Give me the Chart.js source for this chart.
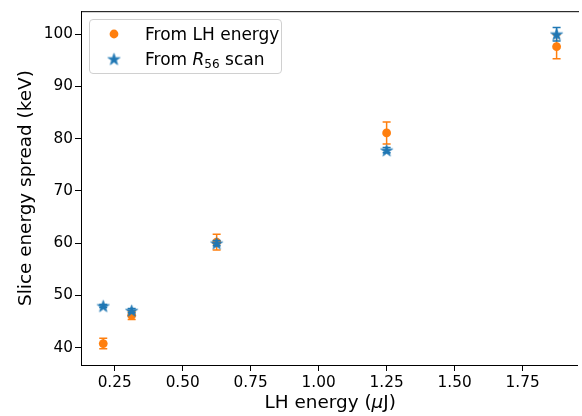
<!DOCTYPE html>
<html lang="en">
<head>
<meta charset="UTF-8" />
<title>Slice energy spread</title>
<script src="https://cdn.jsdelivr.net/npm/chart.js"></script>
<style>
  html, body { margin: 0; padding: 0; background: #fff; overflow: hidden; }
  #wrap { position: relative; width: 582px; height: 416px; font-family: "DejaVu Sans", sans-serif; color: #000; overflow: hidden; }
  #legend {
    position: absolute; left: 89px; top: 19px; width: 193px; height: 55px;
    border: 1px solid #d0d0d0; border-radius: 4px; background: rgba(255,255,255,0.85);
    font-size: 17px; box-sizing: border-box;
  }
  .row { position: absolute; left: 0; height: 22px; line-height: 22px; }
  .row .txt { position: absolute; left: 55px; white-space: nowrap; }
  .row canvas { position: absolute; left: 14px; top: 0; }
  #xtitle { position: absolute; top: 391px; font-size: 18.4px; white-space: nowrap; }
  sub { font-size: 12px; vertical-align: -3px; line-height: 0; }
</style>
</head>
<body>
<div id="wrap">
  <canvas id="grafico" width="582" height="416"></canvas>
  <div id="legend">
    <div class="row" style="top:3px"><canvas id="mk1" width="20" height="22"></canvas><span class="txt">From LH energy</span></div>
    <div class="row" style="top:28px"><canvas id="mk2" width="20" height="22"></canvas><span class="txt">From <i>R</i><sub>56</sub> scan</span></div>
  </div>
  <div id="xtitle">LH energy (<i>μ</i>J)</div>
</div>

<script>
// laser heater pulse energies (uJ)
const energy = [0.208, 0.3125, 0.625, 1.25, 1.875];

// spread derived from LH energy (keV)
const spreadLH = [40.8, 46.2, 60.2, 81.1, 97.6];
const errLH = [1.0, 0.8, 1.5, 2.1, 2.3];

// spread from R56 scan (keV)
const spreadR56 = [48.0, 47.1, 60.0, 77.8, 100.0];
const errR56 = [0.3, 0.4, 0.5, 0.5, 1.3];

const xTicks = [0.25, 0.50, 0.75, 1.00, 1.25, 1.50, 1.75];
const yTicks = [40, 50, 60, 70, 80, 90, 100];

const orange = '#ff7f0e';
const blue = '#1f77b4';

function starCanvas(r, color) {
    const c = document.createElement('canvas');
    const s = Math.ceil(r * 2 + 2);
    c.width = s; c.height = s;
    const g = c.getContext('2d');
    g.beginPath();
    for (let i = 0; i < 10; i++) {
        const rad = i % 2 === 0 ? r : r * 0.382;
        const a = -Math.PI / 2 + i * Math.PI / 5;
        const px = s / 2 + rad * Math.cos(a), py = s / 2 + 0.6 + rad * Math.sin(a);
        if (i === 0) g.moveTo(px, py); else g.lineTo(px, py);
    }
    g.closePath();
    g.fillStyle = color;
    g.fill();
    g.strokeStyle = color;
    g.lineWidth = 0.8;
    g.stroke();
    return c;
}

const star = starCanvas(6.3, blue);

// legend markers
(function () {
    const g1 = document.getElementById('mk1').getContext('2d');
    g1.fillStyle = orange;
    g1.beginPath(); g1.arc(10, 11, 4.4, 0, Math.PI * 2); g1.fill();
    const g2 = document.getElementById('mk2').getContext('2d');
    g2.drawImage(star, 10 - star.width / 2, 11 - star.height / 2);
})();

// vertical error bars with caps, drawn just under each dataset's markers
const errorBars = {
    id: 'errorBars',
    beforeDatasetDraw(chart, args) {
        const ds = chart.data.datasets[args.index];
        if (!ds.errors) return;
        const xs = chart.scales.x, ys = chart.scales.y;
        const c = chart.ctx;
        c.save();
        c.strokeStyle = ds.borderColor;
        c.lineWidth = 1.5;
        ds.data.forEach((p, i) => {
            const px = xs.getPixelForValue(p.x);
            const top = ys.getPixelForValue(p.y + ds.errors[i]);
            const bot = ys.getPixelForValue(p.y - ds.errors[i]);
            c.beginPath();
            c.moveTo(px, top); c.lineTo(px, bot);
            c.moveTo(px - 4, top); c.lineTo(px + 4, top);
            c.moveTo(px - 4, bot); c.lineTo(px + 4, bot);
            c.stroke();
        });
        c.restore();
    }
};

// top spine (right spine falls just past the canvas edge)
const frame = {
    id: 'frame',
    afterDraw(chart) {
        const a = chart.chartArea, c = chart.ctx;
        c.save();
        c.strokeStyle = '#000';
        c.lineWidth = 1;
        c.beginPath();
        c.moveTo(a.left, a.top + 0.5);
        c.lineTo(a.right + 2, a.top + 0.5);
        c.stroke();
        c.restore();
        const xt = document.getElementById('xtitle');
        const axisRight = chart.scales.x.getPixelForValue(1.958);
        xt.style.left = ((a.left + axisRight) / 2 - xt.offsetWidth / 2) + 'px';
    }
};

Chart.defaults.font.family = '"DejaVu Sans", sans-serif';
Chart.defaults.color = '#000';

const ctx = document.getElementById('grafico').getContext('2d');
const grafico = new Chart(ctx, {
    type: 'scatter',
    data: {
        datasets: [
            {
                label: 'From R56 scan',
                data: energy.map((x, i) => ({ x: x, y: spreadR56[i] })),
                errors: errR56,
                borderColor: blue,
                backgroundColor: blue,
                pointStyle: star,
                order: 0
            },
            {
                label: 'From LH energy',
                data: energy.map((x, i) => ({ x: x, y: spreadLH[i] })),
                errors: errLH,
                borderColor: orange,
                backgroundColor: orange,
                pointRadius: 4.4,
                pointBorderWidth: 0,
                order: 1
            }
        ]
    },
    options: {
        responsive: false,
        animation: false,
        events: [],
        layout: { padding: { top: 10, right: 0 } },
        plugins: { legend: { display: false }, tooltip: { enabled: false } },
        scales: {
            x: {
                type: 'linear',
                min: 0.1262,
                max: 1.950,
                afterBuildTicks: s => { s.ticks = xTicks.map(v => ({ value: v })); },
                afterFit: s => { s.height = 51; },
                ticks: { font: { size: 15.3 }, padding: 3, maxRotation: 0, callback: v => v.toFixed(2) },
                grid: { drawOnChartArea: false, drawTicks: true, tickLength: 6, color: '#000' },
                border: { display: true, color: '#000' }
            },
            y: {
                min: 36.7,
                max: 104.4,
                afterBuildTicks: s => { s.ticks = yTicks.map(v => ({ value: v })); },
                afterFit: s => { s.width = 81; },
                ticks: { font: { size: 15.3 }, padding: 2 },
                grid: { drawOnChartArea: false, drawTicks: true, tickLength: 6, color: '#000' },
                border: { display: true, color: '#000' },
                title: { display: true, text: 'Slice energy spread (keV)', font: { size: 18.4 }, padding: { top: 15, bottom: 0 } }
            }
        }
    },
    plugins: [errorBars, frame]
});
</script>
</body>
</html>
